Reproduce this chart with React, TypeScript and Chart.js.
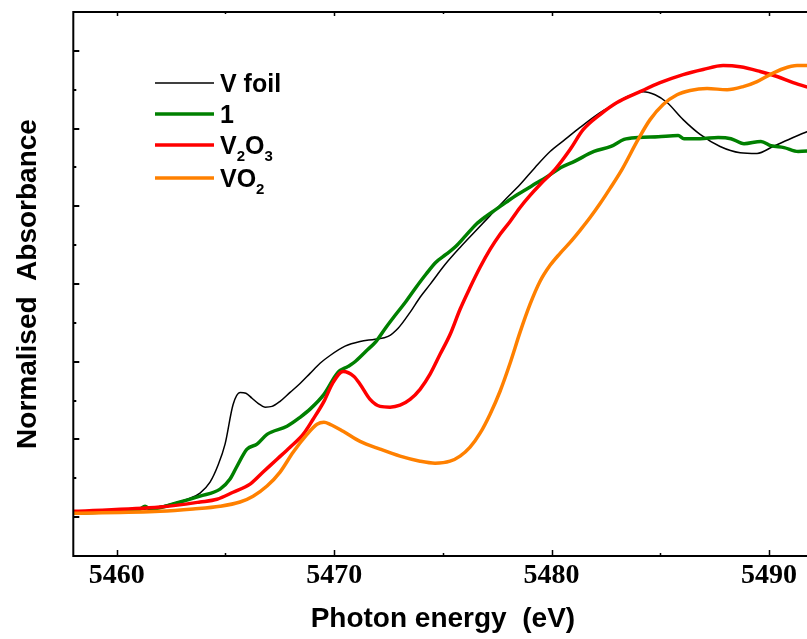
import React, { useEffect, useRef } from "react";
import { Chart, registerables } from "chart.js";

Chart.register(...registerables);

// ---- data (photon energy in eV, normalised absorbance) ----
const vFoilEnergy = [5458.0, 5460.15, 5461.53, 5462.45, 5463.37, 5463.83, 5464.29, 5464.66, 5464.98, 5465.35, 5465.67, 5465.94, 5466.22, 5466.5, 5466.82, 5467.14, 5467.51, 5467.97, 5468.43, 5468.89, 5469.35, 5469.81, 5470.5, 5471.19, 5471.88, 5472.48, 5472.94, 5473.49, 5473.95, 5474.41, 5475.1, 5475.79, 5476.48, 5477.17, 5477.86, 5478.55, 5479.24, 5479.93, 5480.62, 5481.31, 5482.23, 5482.92, 5483.47, 5484.21, 5484.76, 5485.31, 5486.05, 5486.83, 5487.75, 5488.67, 5489.45, 5490.19, 5491.11, 5491.98];
const vFoilAbs = [0.010, 0.015, 0.023, 0.033, 0.049, 0.062, 0.090, 0.134, 0.188, 0.290, 0.321, 0.319, 0.306, 0.293, 0.283, 0.285, 0.298, 0.321, 0.344, 0.370, 0.396, 0.416, 0.440, 0.452, 0.458, 0.465, 0.486, 0.527, 0.566, 0.599, 0.650, 0.694, 0.735, 0.776, 0.817, 0.856, 0.900, 0.941, 0.972, 1.003, 1.041, 1.064, 1.082, 1.095, 1.087, 1.067, 1.023, 0.985, 0.954, 0.938, 0.936, 0.954, 0.977, 0.997];

const compound1Energy = [5458.0, 5460.15, 5461.07, 5461.3, 5461.53, 5462.91, 5463.83, 5464.75, 5465.21, 5465.53, 5465.99, 5466.45, 5466.91, 5467.83, 5468.43, 5468.89, 5469.53, 5470.18, 5470.64, 5470.91, 5471.46, 5471.92, 5472.38, 5472.84, 5473.3, 5473.76, 5474.22, 5474.68, 5475.14, 5475.6, 5476.06, 5476.52, 5476.98, 5477.44, 5477.9, 5478.36, 5478.82, 5479.28, 5479.74, 5480.43, 5481.03, 5481.95, 5482.73, 5483.33, 5483.98, 5484.9, 5485.82, 5486.09, 5486.83, 5487.66, 5488.25, 5488.85, 5489.63, 5490.09, 5490.69, 5491.34, 5491.98];
const compound1Abs = [0.010, 0.015, 0.021, 0.028, 0.021, 0.039, 0.054, 0.072, 0.098, 0.131, 0.175, 0.188, 0.213, 0.234, 0.257, 0.278, 0.316, 0.373, 0.388, 0.398, 0.427, 0.452, 0.488, 0.522, 0.555, 0.591, 0.625, 0.656, 0.676, 0.697, 0.725, 0.753, 0.774, 0.792, 0.810, 0.828, 0.843, 0.859, 0.874, 0.900, 0.915, 0.941, 0.954, 0.972, 0.977, 0.979, 0.982, 0.974, 0.974, 0.977, 0.974, 0.961, 0.967, 0.956, 0.951, 0.941, 0.943];

const v2o3Energy = [5458.0, 5461.99, 5463.83, 5464.61, 5465.35, 5466.13, 5466.73, 5467.37, 5467.97, 5468.57, 5469.03, 5469.53, 5469.95, 5470.41, 5470.91, 5471.19, 5471.65, 5472.11, 5472.57, 5473.03, 5473.49, 5473.95, 5474.41, 5474.87, 5475.33, 5475.79, 5476.25, 5476.71, 5477.17, 5477.63, 5478.09, 5478.55, 5479.01, 5479.47, 5480.16, 5480.85, 5481.45, 5482.23, 5483.01, 5484.07, 5484.99, 5486.05, 5486.97, 5487.89, 5488.67, 5489.59, 5490.37, 5491.11, 5491.98];
const v2o3Abs = [0.015, 0.026, 0.039, 0.046, 0.064, 0.085, 0.116, 0.149, 0.180, 0.213, 0.252, 0.298, 0.347, 0.375, 0.362, 0.342, 0.303, 0.285, 0.283, 0.288, 0.303, 0.329, 0.368, 0.419, 0.470, 0.535, 0.591, 0.643, 0.689, 0.728, 0.761, 0.797, 0.828, 0.856, 0.895, 0.946, 0.997, 1.036, 1.067, 1.095, 1.118, 1.139, 1.152, 1.162, 1.159, 1.147, 1.134, 1.118, 1.103];

const vo2Energy = [5458.0, 5461.99, 5463.51, 5464.75, 5465.67, 5466.27, 5466.91, 5467.51, 5468.11, 5468.75, 5469.21, 5469.53, 5469.81, 5470.41, 5471.19, 5472.11, 5473.03, 5473.95, 5474.64, 5475.33, 5475.79, 5476.25, 5476.71, 5477.17, 5477.63, 5478.09, 5478.55, 5479.01, 5479.47, 5479.93, 5480.39, 5480.85, 5481.31, 5481.77, 5482.23, 5482.69, 5483.24, 5483.98, 5484.53, 5485.13, 5485.77, 5486.37, 5487.15, 5488.07, 5488.81, 5489.45, 5490.05, 5490.65, 5491.29, 5491.98];
const vo2Abs = [0.010, 0.015, 0.021, 0.028, 0.039, 0.054, 0.080, 0.116, 0.167, 0.213, 0.239, 0.244, 0.239, 0.221, 0.195, 0.175, 0.157, 0.144, 0.139, 0.144, 0.157, 0.180, 0.216, 0.265, 0.324, 0.396, 0.476, 0.548, 0.607, 0.648, 0.679, 0.707, 0.738, 0.771, 0.807, 0.846, 0.895, 0.972, 1.023, 1.062, 1.087, 1.098, 1.103, 1.100, 1.108, 1.121, 1.139, 1.154, 1.162, 1.162];

const xTickValues = [5460, 5470, 5480, 5490];
const xMinorTickValues = [5465, 5475, 5485];
const yMajorTickValues = [0, 0.2, 0.4, 0.6, 0.8, 1.0, 1.2];
const yMinorTickValues = [0.1, 0.3, 0.5, 0.7, 0.9, 1.1];

const X_MIN = 5458;
const X_MAX = 5492;
const Y_MIN = -0.1;
const Y_MAX = 1.3;

// legend entries: [text, isSubscript] parts
const legendEntries = [
  { parts: [["V foil", false]], color: "#000000", width: 1.5 },
  { parts: [["1", false]], color: "#008000", width: 3.5 },
  { parts: [["V", false], ["2", true], ["O", false], ["3", true]], color: "#ff0000", width: 3.5 },
  { parts: [["VO", false], ["2", true]], color: "#ff8000", width: 3.5 },
];

const SANS = '"Liberation Sans", Arial, Helvetica, sans-serif';
const SERIF = '"Liberation Serif", "Times New Roman", serif';

function toPoints(xs: number[], ys: number[]) {
  return xs.map((x, i) => ({ x, y: ys[i] }));
}

const framePlugin = {
  id: "frameAndLegend",
  afterDatasetsDraw(chart: any) {
    const { ctx, chartArea: a, scales } = chart;
    const xs = scales.x;
    const ys = scales.y;
    ctx.save();
    ctx.strokeStyle = "#000";
    ctx.lineWidth = 2;
    ctx.strokeRect(a.left, a.top, a.right - a.left, a.bottom - a.top);

    ctx.lineWidth = 1.5;
    ctx.beginPath();
    for (const v of xTickValues) {
      const p = Math.round(xs.getPixelForValue(v)) + 0.5;
      ctx.moveTo(p, a.bottom);
      ctx.lineTo(p, a.bottom - 6);
      ctx.moveTo(p, a.top);
      ctx.lineTo(p, a.top + 4);
    }
    for (const v of xMinorTickValues) {
      const p = Math.round(xs.getPixelForValue(v)) + 0.5;
      ctx.moveTo(p, a.bottom);
      ctx.lineTo(p, a.bottom - 3);
      ctx.moveTo(p, a.top);
      ctx.lineTo(p, a.top + 2);
    }
    ctx.stroke();
    ctx.lineWidth = 2;
    ctx.beginPath();
    for (const v of yMajorTickValues) {
      const p = Math.round(ys.getPixelForValue(v));
      ctx.moveTo(a.left, p);
      ctx.lineTo(a.left + 6, p);
    }
    for (const v of yMinorTickValues) {
      const p = Math.round(ys.getPixelForValue(v));
      ctx.moveTo(a.left, p);
      ctx.lineTo(a.left + 3, p);
    }
    ctx.stroke();

    // legend
    const lineX0 = 155;
    const lineX1 = 214;
    const textX = 220;
    const rowY = [83, 114, 145, 178];
    legendEntries.forEach((e, i) => {
      const y = rowY[i];
      ctx.strokeStyle = e.color;
      ctx.lineWidth = e.width;
      ctx.beginPath();
      ctx.moveTo(lineX0, y);
      ctx.lineTo(lineX1, y);
      ctx.stroke();
      let x = textX;
      ctx.fillStyle = "#000";
      ctx.textBaseline = "alphabetic";
      ctx.textAlign = "left";
      for (const [t, sub] of e.parts as [string, boolean][]) {
        ctx.font = sub ? `bold 15px ${SANS}` : `bold 25px ${SANS}`;
        const by = sub ? y + 16 : y + 9;
        ctx.fillText(t, x, by);
        x += ctx.measureText(t).width;
      }
    });
    ctx.restore();
  },
};

export default function App() {
  const canvasRef = useRef<HTMLCanvasElement | null>(null);

  useEffect(() => {
    const canvas = canvasRef.current;
    if (!canvas) return;
    const chart = new Chart(canvas, {
      type: "line",
      data: {
        datasets: [
          {
            label: "V foil",
            data: toPoints(vFoilEnergy, vFoilAbs),
            borderColor: "#000000",
            borderWidth: 1.5,
            pointRadius: 0,
            fill: false,
            cubicInterpolationMode: "monotone",
            order: 4,
          },
          {
            label: "1",
            data: toPoints(compound1Energy, compound1Abs),
            borderColor: "#008000",
            borderWidth: 3.5,
            pointRadius: 0,
            fill: false,
            cubicInterpolationMode: "monotone",
            order: 3,
          },
          {
            label: "V2O3",
            data: toPoints(v2o3Energy, v2o3Abs),
            borderColor: "#ff0000",
            borderWidth: 3.5,
            pointRadius: 0,
            fill: false,
            cubicInterpolationMode: "monotone",
            order: 2,
          },
          {
            label: "VO2",
            data: toPoints(vo2Energy, vo2Abs),
            borderColor: "#ff8000",
            borderWidth: 3.5,
            pointRadius: 0,
            fill: false,
            cubicInterpolationMode: "monotone",
            order: 1,
          },
        ],
      },
      options: {
        responsive: false,
        animation: false,
        devicePixelRatio: 1,
        layout: { padding: { top: 12, right: 17.5, bottom: 0, left: 0 } },
        plugins: {
          legend: { display: false },
          tooltip: { enabled: false },
        },
        scales: {
          x: {
            type: "linear",
            min: X_MIN,
            max: X_MAX,
            afterBuildTicks: (s: any) => {
              s.ticks = xTickValues.map((v) => ({ value: v }));
            },
            afterFit: (s: any) => {
              s.height = 83;
            },
            grid: { display: false, drawTicks: false },
            border: { display: false },
            ticks: {
              color: "#000",
              padding: 3,
              maxRotation: 0,
              autoSkip: false,
              callback: (v: any) => String(v),
              font: { family: SERIF, size: 28, weight: "bold" },
            },
            title: {
              display: true,
              text: "Photon energy  (eV)",
              color: "#000",
              font: { family: SANS, size: 28, weight: "bold" },
              padding: { top: 0, bottom: 3 },
            },
          },
          y: {
            type: "linear",
            min: Y_MIN,
            max: Y_MAX,
            afterFit: (s: any) => {
              s.width = 73.3;
            },
            grid: { display: false, drawTicks: false },
            border: { display: false },
            ticks: { display: false },
            title: {
              display: true,
              text: "Normalised  Absorbance",
              color: "#000",
              font: { family: SANS, size: 28, weight: "bold" },
              padding: { top: 11, bottom: 0 },
            },
          },
        },
      },
      plugins: [framePlugin],
    } as any);
    return () => chart.destroy();
  }, []);

  return (
    <div
      style={{
        position: "fixed",
        left: 0,
        top: 0,
        width: 807,
        height: 639,
        overflow: "hidden",
        background: "#fff",
      }}
    >
      <canvas ref={canvasRef} width={830} height={639} style={{ display: "block" }} />
    </div>
  );
}
